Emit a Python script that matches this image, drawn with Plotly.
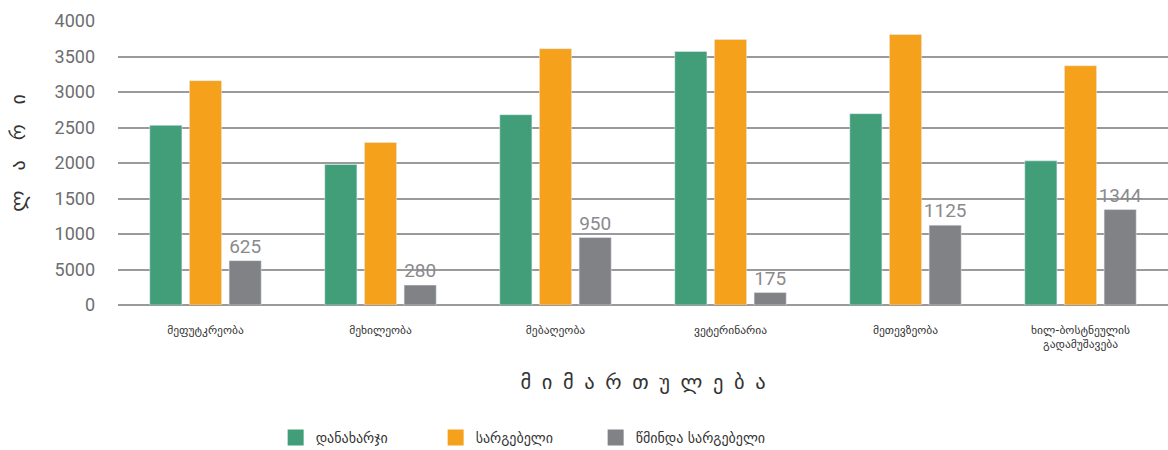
import plotly.graph_objects as go

categories = ["მეფუტკრეობა", "მეხილეობა", "მებაღეობა", "ვეტერინარია",
              "მეთევზეობა", "ხილ-ბოსტნეულის<br>გადამუშავება"]
cost = [2530, 1980, 2680, 3570, 2695, 2030]
revenue = [3160, 2290, 3610, 3740, 3810, 3370]
net = [625, 280, 950, 175, 1125, 1344]
net_labels = ["625", "280", "950", "175", "1125", "1344"]
series_names = ["დანახარჯი", "სარგებელი", "წმინდა სარგებელი"]
y_tickvals = [0, 500, 1000, 1500, 2000, 2500, 3000, 3500, 4000]
y_ticktext = ["0", "5000", "1000", "1500", "2000", "2500", "3000", "3500", "4000"]
y_title = "ლარი"
x_title = "მიმართულება"

GREEN = "#419E79"
ORANGE = "#F6A11C"
GRAY = "#818285"
NARROW = "Roboto, Liberation Sans, sans-serif"
GEO = "DejaVu Sans, Noto Sans, sans-serif"
colors = [GREEN, ORANGE, GRAY]

fig = go.Figure()
fig.add_trace(go.Bar(x=categories, y=cost, name=series_names[0], marker_color=GREEN,
                     showlegend=False))
fig.add_trace(go.Bar(x=categories, y=revenue, name=series_names[1], marker_color=ORANGE,
                     showlegend=False))
fig.add_trace(go.Bar(x=categories, y=net, name=series_names[2], marker_color=GRAY,
                     text=net_labels, textposition="outside", cliponaxis=False,
                     constraintext="none", showlegend=False,
                     textfont=dict(family=NARROW, size=19, color="#8a8a8e")))

# legend entries with 16px square swatches
for name, col in zip(series_names, colors):
    fig.add_trace(go.Scatter(x=[None], y=[None], mode="markers", name=name,
                             marker=dict(symbol="square", size=16, color=col)))
# invisible spacer entry so the last legend label is not clipped
fig.add_trace(go.Scatter(x=[None], y=[None], mode="markers", name="\u00a0",
                         marker=dict(symbol="square", size=16, color="rgba(0,0,0,0)")))

fig.add_annotation(text="\u2003".join(y_title), textangle=-90,
                   xref="paper", yref="paper", x=-0.0952, y=0.536,
                   xanchor="center", yanchor="middle", showarrow=False,
                   font=dict(family=GEO, size=20, color="#333333"))

fig.update_layout(
    width=1168, height=450,
    margin=dict(l=118, r=0, t=21, b=144.5),
    paper_bgcolor="white", plot_bgcolor="white",
    barmode="group", bargap=0.32, bargroupgap=0.19,
    font=dict(family=GEO, color="#333333"),
    xaxis=dict(
        tickfont=dict(family=GEO, size=11.5, color="#333333"),
        showgrid=False, ticks="", showline=False,
        ticklabelstandoff=16,
        title=dict(text=" \u200a\u200a".join(x_title),
                   font=dict(family=GEO, size=20.5, color="#333333"),
                   standoff=24),
    ),
    yaxis=dict(
        range=[0, 4000],
        tickvals=y_tickvals, ticktext=y_ticktext,
        tickfont=dict(family=NARROW, size=18, color="#6d6e71"),
        showgrid=True, gridcolor="#9a9a9a", gridwidth=1.5,
        zeroline=True, zerolinecolor="#9a9a9a", zerolinewidth=2,
        ticklabelstandoff=22,
    ),
    legend=dict(
        orientation="h", xref="container", yref="container",
        x=0.236, y=0.027, xanchor="left", yanchor="middle",
        font=dict(family=GEO, size=14, color="#333333"),
        entrywidth=115,
    ),
)

fig.write_html("out.html")
